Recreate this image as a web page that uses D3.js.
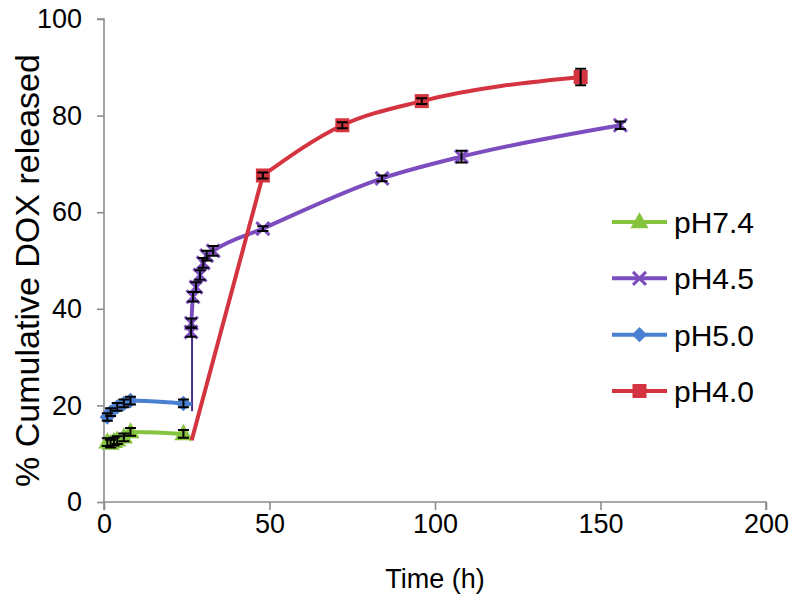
<!DOCTYPE html>
<html><head><meta charset="utf-8">
<script src="https://cdn.jsdelivr.net/npm/d3@7/dist/d3.min.js"></script>
<style>body{margin:0;background:#fff}svg{display:block}text{font-family:"Liberation Sans",Arial,sans-serif;fill:#000}</style>
</head><body><svg id="c" width="800" height="604"></svg>
<script>
// ---- data ----
const xTicks = [0, 50, 100, 150, 200];
const yTicks = [0, 20, 40, 60, 80, 100];
const seriesNames = ["pH7.4", "pH4.5", "pH5.0", "pH4.0"];

const t74 = [1, 2, 3, 4, 6, 8, 24, 26.5];
const v74 = [12.4, 12.1, 12.5, 12.8, 13.4, 14.5, 14.1, 12.8];
const e74 = [0.8, 0.8, 0.8, 0.8, 0.8, 0.8, 0.8, 0];
const m74 = [1, 1, 1, 1, 1, 1, 1, 0];

const t50 = [1, 2, 4, 6, 8, 24, 26.5];
const v50 = [17.6, 18.6, 19.7, 20.4, 21.0, 20.4, 20.3];
const e50 = [0.8, 0.8, 0.8, 0.8, 0.8, 0.8, 0];
const m50 = [1, 1, 1, 1, 1, 1, 0];

const t45 = [26.3, 26.4, 26.9, 27.8, 29, 30, 31, 33, 48, 84, 108, 156];
const v45 = [35.2, 37, 42.5, 44.5, 47, 49.5, 51, 52, 56.6, 67, 71.5, 78];
const e45 = [1, 1, 1, 1, 1, 1, 1, 1, 0.5, 0.6, 1.2, 0.8];
const m45 = [1, 1, 1, 1, 1, 1, 1, 1, 1, 1, 1, 1];
const lead45 = {t: 26.6, from: 18.8, to: 36};

const t40 = [26.5, 48, 72, 96, 144];
const v40 = [12.8, 67.6, 78, 83, 88];
const e40 = [0, 0.6, 0.6, 0.6, 1.7];
const m40 = [0, 1, 1, 1, 1];

const colors = {"pH7.4": "#86C440", "pH4.5": "#7B4DBE", "pH5.0": "#4A80D2", "pH4.0": "#D4343F"};
const markers = {"pH7.4": "triangle", "pH4.5": "cross", "pH5.0": "diamond", "pH4.0": "square"};
const markerSize = {"pH7.4": 14, "pH4.5": 13, "pH5.0": 14, "pH4.0": 14};

const series = [
  {name: "pH7.4", t: t74, v: v74, e: e74, m: m74},
  {name: "pH5.0", t: t50, v: v50, e: e50, m: m50},
  {name: "pH4.5", t: t45, v: v45, e: e45, m: m45},
  {name: "pH4.0", t: t40, v: v40, e: e40, m: m40}
];

// ---- layout ----
const svg = d3.select("#c");
const x = d3.scaleLinear().domain([0, 200]).range([104, 766]);
const y = d3.scaleLinear().domain([0, 100]).range([502, 19]);
const axisColor = "#8c8c8c";

const gx = svg.append("g").attr("transform", `translate(0,${y(0)})`)
  .call(d3.axisBottom(x).tickValues(xTicks).tickSize(8).tickPadding(4));
const gy = svg.append("g").attr("transform", `translate(${x(0)},0)`)
  .call(d3.axisLeft(y).tickValues(yTicks).tickSize(7).tickPadding(15));
[gx, gy].forEach(g => {
  g.select(".domain").attr("stroke", axisColor).attr("stroke-width", 1.6);
  g.selectAll(".tick line").attr("stroke", axisColor).attr("stroke-width", 1.6);
  g.selectAll(".tick text").attr("font-size", 27).attr("font-family", '"Liberation Sans",Arial,sans-serif').attr("fill", "#000");
});
gy.select(".domain").attr("d", `M-7,${y(100)}H0V${y(0)}`);
gx.select(".domain").attr("d", `M${x(0)},8V0H${x(200)}V8`);

svg.append("text").attr("x", 435).attr("y", 588).attr("text-anchor", "middle")
  .attr("font-size", 27).text("Time (h)");
svg.append("text").attr("transform", `translate(39,${(y(0)+y(100))/2 + 10}) rotate(-90)`)
  .attr("text-anchor", "middle").attr("font-size", 34).text("% Cumulative DOX released");

const smooth = d3.line().x(d => x(d.t)).y(d => y(d.v)).curve(d3.curveMonotoneX);
const straight = d3.line().x(d => x(d.t)).y(d => y(d.v));

function drawMarker(g, type, cx, cy, color, s) {
  if (type === "triangle") {
    g.append("path").attr("d", `M${cx},${cy - s * 0.7}L${cx + s * 0.65},${cy + s * 0.45}L${cx - s * 0.65},${cy + s * 0.45}Z`).attr("fill", color);
  } else if (type === "square") {
    g.append("rect").attr("x", cx - s / 2).attr("y", cy - s / 2).attr("width", s).attr("height", s).attr("fill", color);
  } else if (type === "diamond") {
    g.append("path").attr("d", `M${cx},${cy - s * 0.55}L${cx + s * 0.55},${cy}L${cx},${cy + s * 0.55}L${cx - s * 0.55},${cy}Z`).attr("fill", color);
  } else if (type === "cross") {
    const h = s / 2;
    g.append("path").attr("d", `M${cx - h},${cy - h}L${cx + h},${cy + h}M${cx - h},${cy + h}L${cx + h},${cy - h}`)
      .attr("stroke", color).attr("stroke-width", 3).attr("fill", "none");
  }
}

// purple lead (thin connector)
svg.append("line").attr("x1", x(lead45.t)).attr("x2", x(lead45.t))
  .attr("y1", y(lead45.from)).attr("y2", y(lead45.to))
  .attr("stroke", "#4a2f8c").attr("stroke-width", 2);

series.forEach(s => {
  const pts = s.t.map((t, i) => ({t, v: s.v[i], e: s.e[i], m: s.m[i]}));
  const g = svg.append("g");
  let body = pts;
  if (!pts[0].m) {
    g.append("path").datum(pts.slice(0, 2)).attr("d", straight).attr("fill", "none")
      .attr("stroke", colors[s.name]).attr("stroke-width", 4);
    body = pts.slice(1);
  }
  g.append("path").datum(body).attr("d", smooth).attr("fill", "none")
    .attr("stroke", colors[s.name]).attr("stroke-width", 4).attr("stroke-linejoin", "round");
  pts.filter(p => p.m).forEach(p => {
    drawMarker(g, markers[s.name], x(p.t), y(p.v), colors[s.name], markerSize[s.name]);
  });
  pts.filter(p => p.m && p.e > 0).forEach(p => {
    const cx = x(p.t);
    const y1 = y(p.v + p.e), y2 = y(p.v - p.e);
    g.append("path").attr("d", `M${cx},${y1}V${y2}M${cx - 5.5},${y1}H${cx + 5.5}M${cx - 5.5},${y2}H${cx + 5.5}`)
      .attr("stroke", "#000").attr("stroke-width", 2).attr("fill", "none");
  });
});

// legend
const legendOrder = ["pH7.4", "pH4.5", "pH5.0", "pH4.0"];
const legY = d3.scalePoint().domain(legendOrder).range([222, 391]);
legendOrder.forEach(n => {
  const ly = legY(n);
  const g = svg.append("g");
  g.append("line").attr("x1", 612).attr("x2", 667).attr("y1", ly).attr("y2", ly)
    .attr("stroke", colors[n]).attr("stroke-width", 4);
  drawMarker(g, markers[n], 639.5, ly, colors[n], markerSize[n]);
  g.append("text").attr("x", 674).attr("y", ly + 11).attr("font-size", 30).text(n);
});
</script></body></html>
